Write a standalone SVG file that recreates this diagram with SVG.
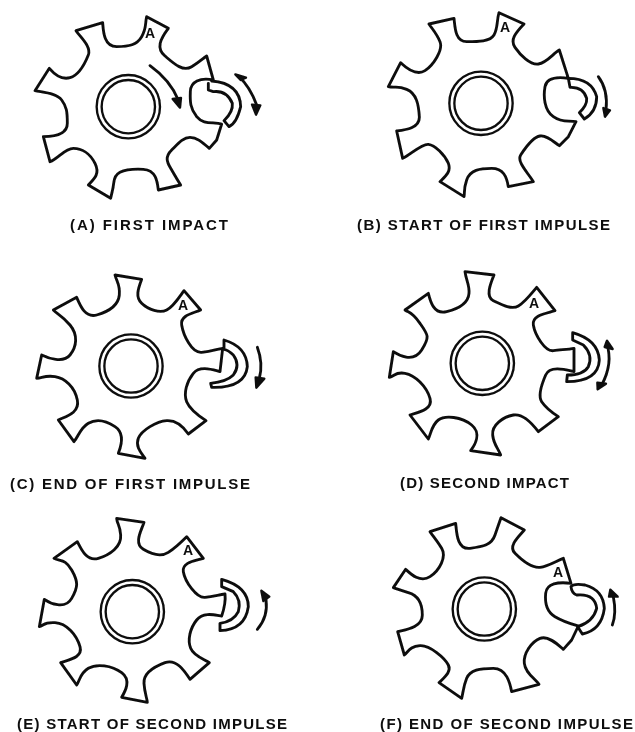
<svg xmlns="http://www.w3.org/2000/svg" width="635" height="732" viewBox="0 0 635 732">
<defs><filter id="soft" x="0" y="0" width="100%" height="100%" filterUnits="userSpaceOnUse"><feGaussianBlur stdDeviation="0.3"/></filter></defs>
<style>
.o{fill:none;stroke:#0c0c0c;stroke-width:8.5;stroke-linejoin:round;stroke-linecap:round}
.r{fill:none;stroke:#0c0c0c;stroke-width:7}
.h{fill:#0c0c0c;stroke:#0c0c0c;stroke-width:7;stroke-linejoin:round}
.a{font-family:"Liberation Sans",Arial,sans-serif;font-weight:700;font-size:14px;fill:#0c0c0c;text-anchor:middle}
.c{font-family:"Liberation Sans",Arial,sans-serif;font-weight:700;font-size:15px;fill:#0c0c0c}
</style>
<rect width="635" height="732" fill="#fff"/>
<g filter="url(#soft)">
<g id="panel-a">
<g transform="translate(20,0) scale(.33333)">
<path class="o" d="M380,50 L445,85 C420,118 408,145 435,168 S488,216 515,200 S545,178 560,168 L580,240 C540,232 512,245 511,275 S510,325 530,350 S580,365 605,372 L590,420 L568,445 C545,425 530,412 510,412 S475,430 455,450 S440,485 452,505 S475,545 482,555 L415,570 C412,545 408,510 370,508 S310,512 300,517 S283,530 281,550 S275,580 272,595 L205,555 C225,535 240,520 225,490 S185,445 160,445 S115,475 90,485 L70,410 C100,410 142,405 142,370 S140,320 125,300 S75,278 45,272 L88,205 C105,225 125,240 150,233 S195,190 205,165 S180,110 168,92 L248,68 C250,95 252,140 290,140 S350,135 365,110 S375,70 380,50 Z"/>
<path class="o" d="M575,243 Q660,250 662,320 Q650,370 627,380 L612,362 Q640,335 637,310 Q620,270 580,275 L565,270 L565,250"/>
<circle class="r" cx="325" cy="320" r="95"/><circle class="r" cx="325" cy="320" r="80"/>
</g>
<text class="a" x="150" y="38">A</text>
<text class="c" x="70" y="230" textLength="158" lengthAdjust="spacing">(A) FIRST IMPACT</text>
</g>
<g id="panel-b">
<g transform="translate(350,0) scale(.33333)">
<path class="o" d="M447,38 L522,72 C495,100 480,120 495,142 S540,195 565,192 S610,160 628,150 L655,235 C620,230 590,232 585,260 S582,330 610,350 S655,360 678,365 L655,410 L628,437 C610,425 590,405 570,408 S525,445 512,465 S535,520 550,545 L475,560 C470,530 460,505 425,505 S360,510 350,540 S345,575 342,590 L270,545 C285,530 305,515 295,490 S255,435 235,433 S180,465 158,475 L140,393 C165,390 210,385 208,350 S200,280 170,268 S135,265 115,260 L152,188 C170,205 200,228 225,212 S280,150 270,125 S245,85 237,72 L312,55 C315,80 315,125 350,125 S420,125 432,105 S440,60 447,38 Z"/>
<path class="o" d="M655,235 Q725,235 740,290 Q740,335 703,357 L688,338 Q712,315 710,295 Q700,260 660,262 Z"/>
<circle class="r" cx="393" cy="310" r="95"/><circle class="r" cx="393" cy="310" r="80"/>
</g>
<text class="a" x="505" y="32">A</text>
<text class="c" x="357" y="230" textLength="253" lengthAdjust="spacing">(B) START OF FIRST IMPULSE</text>
</g>
<g id="panel-c">
<g transform="translate(0,260) scale(.33333)">
<path class="o" d="M345,45 L425,58 C415,85 405,110 425,130 S480,160 500,150 S535,115 552,92 L602,150 C580,160 540,165 545,195 S575,280 605,277 S650,268 668,265 L660,335 C640,330 600,315 580,340 S550,400 560,425 S600,470 618,482 L565,522 C550,500 530,480 500,482 S425,510 415,535 S425,580 435,595 L355,580 C365,555 375,520 345,500 S290,475 265,490 S235,530 222,545 L175,480 C195,470 240,460 232,420 S195,355 165,350 S125,355 110,355 L125,285 C145,295 190,310 210,285 S235,225 210,195 S175,165 160,150 L230,112 C240,135 255,175 290,165 S355,135 358,105 S350,65 345,45 Z"/>
<path class="o" d="M672,240 Q740,260 742,320 Q735,385 635,382 L632,370 Q680,365 700,345 Q722,315 700,285 Q685,270 672,268 Z"/>
<circle class="r" cx="393" cy="318" r="95"/><circle class="r" cx="393" cy="318" r="80"/>
</g>
<text class="a" x="183" y="310">A</text>
<text class="c" x="10" y="489" textLength="240" lengthAdjust="spacing">(C) END OF FIRST IMPULSE</text>
</g>
<g id="panel-d">
<g transform="translate(350,260) scale(.33333)">
<path class="o" d="M345,35 L432,45 C422,70 405,110 430,122 S485,150 505,138 S545,100 560,82 L615,152 C590,160 545,165 550,195 S585,275 610,272 S655,268 672,265 L672,335 C650,330 600,315 587,345 S565,410 575,425 S610,460 625,470 L565,515 C550,495 520,460 490,465 S425,495 428,525 S445,565 452,585 L362,572 C375,555 395,520 365,495 S285,465 265,480 S243,520 235,537 L180,465 C200,458 250,450 240,415 S195,345 165,340 S135,348 118,352 L130,275 C145,285 190,310 215,270 S235,225 210,190 S180,160 165,150 L235,100 C240,120 250,165 290,155 S355,125 357,100 S348,60 345,35 Z"/>
<path class="o" d="M668,218 Q745,240 748,300 Q745,365 650,365 L652,345 Q700,345 715,320 Q730,285 700,255 L668,240 Z"/>
<circle class="r" cx="397" cy="310" r="95"/><circle class="r" cx="397" cy="310" r="80"/>
</g>
<text class="a" x="534" y="308">A</text>
<text class="c" x="400" y="488" textLength="169" lengthAdjust="spacing">(D) SECOND IMPACT</text>
</g>
<g id="panel-e">
<g transform="translate(0,490) scale(.33333)">
<path class="o" d="M350,85 L432,97 C425,120 400,160 430,178 S485,200 505,187 S545,155 560,140 L610,205 C590,212 545,215 550,245 S590,325 615,322 S655,315 675,312 Q678,340 665,378 C645,375 610,365 590,390 S562,450 572,475 S615,508 628,518 L570,568 C555,545 530,505 495,518 S430,550 432,580 S440,620 442,637 L365,622 C375,605 395,570 365,548 S290,520 265,535 S240,570 230,585 L182,518 C200,510 250,505 240,470 S200,400 165,398 S135,405 118,410 L133,328 C150,340 195,360 215,325 S235,275 215,240 S180,215 162,205 L232,155 C245,180 260,215 295,205 S365,170 362,135 S352,105 350,85 Z"/>
<path class="o" d="M665,268 Q745,290 745,350 Q735,420 660,422 L660,400 Q700,395 715,365 Q725,330 700,305 L665,290 Z"/>
<circle class="r" cx="397" cy="365" r="95"/><circle class="r" cx="397" cy="365" r="80"/>
</g>
<text class="a" x="188" y="555">A</text>
<text class="c" x="17" y="729" textLength="270" lengthAdjust="spacing">(E) START OF SECOND IMPULSE</text>
</g>
<g id="panel-f">
<g transform="translate(345,490) scale(.33333)">
<path class="o" d="M468,83 L538,120 C515,145 490,170 510,190 S560,235 585,232 S635,212 655,205 L678,280 C640,275 605,280 602,310 S605,365 630,380 S680,402 700,408 L680,450 L655,478 C640,465 610,435 585,445 S535,490 538,520 S570,565 582,583 L500,605 C495,580 485,535 445,535 S375,540 365,565 S355,605 350,625 L282,578 C300,560 320,545 310,525 S255,465 225,467 S190,485 178,495 L158,425 C175,420 232,415 232,375 S215,315 190,308 S160,298 145,293 L182,238 C195,250 225,280 255,260 S305,200 290,175 S265,140 255,125 L332,100 C335,125 335,180 375,175 S440,165 450,135 S462,100 468,83 Z"/>
<path class="o" d="M678,290 Q685,280 720,285 Q775,300 778,355 Q770,420 712,432 L698,410 Q745,395 755,355 Q750,310 695,315 Q680,310 678,290 Z"/>
<circle class="r" cx="418" cy="357" r="95"/><circle class="r" cx="418" cy="357" r="80"/>
</g>
<text class="a" x="558" y="577">A</text>
<text class="c" x="380" y="729" textLength="253" lengthAdjust="spacing">(F) END OF SECOND IMPULSE</text>
</g>
<g id="connectors">
<g transform="translate(20,0) scale(.33333)">
<path class="o" d="M390,197 Q450,240 475,300"/><path class="h" d="M458,297 L483,294 L480,323 Z"/>
<path class="o" d="M655,228 Q690,260 710,315"/><path class="h" d="M646,223 L678,233 L662,240 Z"/><path class="h" d="M696,314 L721,316 L708,344 Z"/>
</g>
<g transform="translate(350,0) scale(.33333)">
<path class="o" d="M745,230 Q775,270 768,330"/><path class="h" d="M760,324 L780,331 L765,350 Z"/>
</g>
<g transform="translate(0,260) scale(.33333)">
<path class="o" d="M772,262 Q790,310 778,355"/><path class="h" d="M767,352 L793,356 L769,383 Z"/>
</g>
<g transform="translate(350,260) scale(.33333)">
<path class="o" d="M770,250 Q790,310 755,375"/><path class="h" d="M764,261 L788,267 L771,242 Z"/><path class="h" d="M742,368 L768,371 L743,388 Z"/>
</g>
<g transform="translate(0,490) scale(.33333)">
<path class="o" d="M772,418 Q805,380 798,330"/><path class="h" d="M784,302 L808,320 L790,333 Z"/>
</g>
<g transform="translate(345,490) scale(.33333)">
<path class="o" d="M802,405 Q815,370 805,320"/><path class="h" d="M792,320 L818,320 L796,299 Z"/>
</g>
</g>
</g>
</svg>
